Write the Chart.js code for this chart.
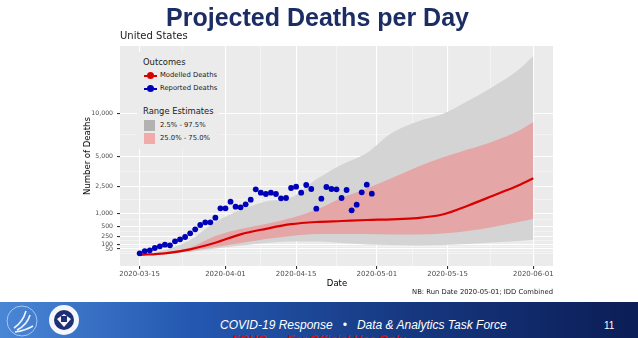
<!DOCTYPE html>
<html>
<head>
<meta charset="utf-8">
<script src="https://cdn.jsdelivr.net/npm/chart.js@4/dist/chart.umd.min.js"></script>
<style>
  body { margin: 0; width: 638px; height: 338px; overflow: hidden; background: #fff; position: relative; font-family: "DejaVu Sans", sans-serif; }
  #deaths { position: absolute; left: 0; top: 0; }
  .abs { position: absolute; white-space: nowrap; }
  #title { left: 0; width: 635px; top: 3px; text-align: center; font: bold 25px "Liberation Sans", Arial, sans-serif; color: #1c2d63; }
  #region { left: 120px; top: 30px; font-size: 10px; color: #1a1a1a; }
  #ylab { left: 87px; top: 156px; font-size: 8.5px; color: #000; transform: translate(-50%, -50%) rotate(-90deg); }
  #xlab { left: 337px; top: 283px; font-size: 8.5px; color: #000; transform: translate(-50%, -50%); }
  #note { right: 85px; top: 288px; font-size: 6.8px; color: #1a1a1a; }
  #legend { left: 137px; top: 52px; width: 82px; height: 97px; background: #ebebeb; }
  #legend .head { position: absolute; left: 6px; font-size: 8.4px; color: #1a1a1a; }
  #legend .item { position: absolute; left: 23px; font-size: 6.8px; color: #1a1a1a; }
  #legend .ln { position: absolute; left: 7px; width: 13px; height: 2px; }
  #legend .ln::after { content: ""; position: absolute; left: 3px; top: -3px; width: 7px; height: 7px; border-radius: 50%; background: inherit; }
  #legend .sw { position: absolute; left: 7px; width: 11px; height: 11px; }
  #band { left: 0; top: 302px; width: 638px; height: 36px; background: linear-gradient(90deg, #4a86d6 0%, #2458b0 30%, #16377f 65%, #0b1d55 100%); }
  #band .txt { position: absolute; left: 220px; top: 16px; font: italic 12px "Liberation Sans", Arial, sans-serif; color: #fff; }
  #band .fouo { position: absolute; left: 232px; top: 31px; font: italic bold 12px "Liberation Sans", Arial, sans-serif; color: #d01010; }
  #band .pg { position: absolute; left: 604px; top: 18px; font: 10px "Liberation Sans", Arial, sans-serif; color: #fff; }
</style>
</head>
<body>
<canvas id="deaths" width="638" height="338"></canvas>

<div id="title" class="abs">Projected Deaths per Day</div>
<div id="region" class="abs">United States</div>
<div id="ylab" class="abs">Number of Deaths</div>
<div id="xlab" class="abs">Date</div>
<div id="note" class="abs">NB: Run Date 2020-05-01; IDD Combined</div>

<div id="legend" class="abs">
  <div class="head" style="top:5px">Outcomes</div>
  <div class="ln" style="top:23px;background:#d90000"></div>
  <div class="item" style="top:19px">Modelled Deaths</div>
  <div class="ln" style="top:36px;background:#0000b8"></div>
  <div class="item" style="top:32px">Reported Deaths</div>
  <div class="head" style="top:54px">Range Estimates</div>
  <div class="sw" style="top:68px;background:#b2b2b2"></div>
  <div class="item" style="top:69px">2.5% - 97.5%</div>
  <div class="sw" style="top:81px;background:#f2abab"></div>
  <div class="item" style="top:82px">25.0% - 75.0%</div>
</div>

<div id="band" class="abs">
  <svg width="90" height="36" style="position:absolute;left:0;top:0">
    <circle cx="22" cy="19" r="15" fill="none" stroke="#a9c6ee" stroke-width="1"/>
    <path d="M14 26 C20 22 24 16 26 9 M17 28 C23 25 28 20 30 13 M15 30 C22 29 28 27 33 24" fill="none" stroke="#eef4ff" stroke-width="1.6"/>
    <circle cx="64" cy="18" r="15" fill="#f4f6fb"/>
    <circle cx="64" cy="18" r="10" fill="#1e2f73"/>
    <path d="M57 17 L64 12 L71 17 L64 25 Z" fill="#f4f6fb"/>
    <rect x="61" y="14" width="6" height="6" fill="#1e2f73"/>
  </svg>
  <div class="txt">COVID-19 Response&nbsp;&nbsp;&nbsp;•&nbsp;&nbsp;&nbsp;Data &amp; Analytics Task Force</div>
  <div class="fouo">FOUO&nbsp;&nbsp;–&nbsp;&nbsp;For Official Use Only</div>
  <div class="pg">11</div>
</div>

<script>
// x values are days counted from 2020-03-15
var xTickDays = [0, 17, 31, 47, 61, 78];
var xTickLabels = ['2020-03-15', '2020-04-01', '2020-04-15', '2020-05-01', '2020-05-15', '2020-06-01'];
var xMinorDays = [8.5, 24, 39, 54, 69.5];

var yTickValues = [50, 100, 250, 500, 1000, 2500, 5000, 10000];
var yMinorValues = [17, 31, 72, 166, 365, 729, 1665, 3648, 7293];

// reported deaths, one point per day (day 0 .. 46)
var reportDays = [0, 1, 2, 3, 4, 5, 6, 7, 8, 9, 10, 11, 12, 13, 14, 15, 16, 17, 18, 19, 20, 21, 22, 23,
  24, 25, 26, 27, 28, 29, 30, 31, 32, 33, 34, 35, 36, 37, 38, 39, 40, 41, 42, 43, 44, 45, 46];
var reportedDeaths = [17, 32, 38, 60, 79, 100, 92, 152, 188, 233, 317, 422, 552, 642, 642, 812, 1220, 1220,
  1556, 1298, 1269, 1419, 1666, 2299, 2081, 2000, 2081, 2000, 1746, 1763, 2385, 2473, 2081, 2590, 2318,
  1201, 1723, 2452, 2318, 2299, 1763, 2253, 1126, 1399, 2106, 2611, 2019];

// model output
var modelDays = [0, 5, 10, 15, 20, 25, 30, 35, 40, 45, 50, 55, 60, 65, 70, 75, 78];
var modelledDeaths = [9, 17, 47, 129, 293, 436, 578, 653, 688, 725, 750, 798, 941, 1348, 1898, 2556, 3078];
var outerHigh = [9, 40, 175, 653, 1140, 1570, 1790, 3000, 4200, 5300, 7500, 8888, 9904, 11756, 13976, 16810, 19390];
var outerLow = [9, 13, 25, 55, 89, 125, 149, 149, 125, 103, 96, 89, 96, 110, 132, 157, 175];
var innerHigh = [9, 19, 65, 255, 431, 585, 800, 1150, 1763, 2350, 3100, 4000, 4860, 5650, 6520, 7720, 8844];
var innerLow = [9, 13, 32, 71, 125, 193, 255, 300, 300, 300, 288, 288, 312, 376, 489, 653, 762];

var pairs = (xs, ys) => xs.map((x, i) => ({ x: x, y: ys[i] }));
var ssqrt = v => Math.sign(v) * Math.sqrt(Math.abs(v));

// square-root y axis
class SqrtScale extends Chart.LinearScale {
  static id = 'sqrt';
  static defaults = {};
  configure() {
    super.configure();
    this._s0 = ssqrt(this.min);
    this._s1 = ssqrt(this.max);
  }
  getPixelForValue(value) {
    if (value === null || value === undefined) return NaN;
    return this.getPixelForDecimal((ssqrt(value) - this._s0) / (this._s1 - this._s0));
  }
  getValueForPixel(pixel) {
    var s = this._s0 + this.getDecimalForPixel(pixel) * (this._s1 - this._s0);
    return Math.sign(s) * s * s;
  }
}
Chart.register(SqrtScale);

var mainTick = c => c.tick && c.tick.main;

new Chart(document.getElementById('deaths'), {
  type: 'line',
  data: {
    datasets: [
      {
        label: 'Reported Deaths',
        data: pairs(reportDays, reportedDeaths),
        showLine: false,
        pointRadius: 2.9,
        pointBorderWidth: 0,
        pointBackgroundColor: '#0000b8',
        order: 0
      },
      {
        label: 'Modelled Deaths',
        data: pairs(modelDays, modelledDeaths),
        borderColor: '#d90000',
        borderWidth: 2.2,
        pointRadius: 0,
        cubicInterpolationMode: 'monotone',
        order: 1
      },
      {
        label: '25.0% - 75.0%',
        data: pairs(modelDays, innerHigh),
        borderWidth: 0,
        pointRadius: 0,
        cubicInterpolationMode: 'monotone',
        backgroundColor: 'rgba(240, 128, 128, 0.55)',
        fill: '+1',
        order: 2
      },
      {
        label: '25.0% low',
        data: pairs(modelDays, innerLow),
        borderWidth: 0,
        pointRadius: 0,
        cubicInterpolationMode: 'monotone',
        order: 3
      },
      {
        label: '2.5% - 97.5%',
        data: pairs(modelDays, outerHigh),
        borderWidth: 0,
        pointRadius: 0,
        cubicInterpolationMode: 'monotone',
        backgroundColor: '#d4d4d4',
        fill: '+1',
        order: 4
      },
      {
        label: '2.5% low',
        data: pairs(modelDays, outerLow),
        borderWidth: 0,
        pointRadius: 0,
        cubicInterpolationMode: 'monotone',
        order: 5
      }
    ]
  },
  options: {
    responsive: false,
    animation: false,
    layout: { padding: { left: 0, top: 46, right: 85, bottom: 42 } },
    plugins: {
      legend: { display: false },
      tooltip: { enabled: false }
    },
    scales: {
      x: {
        type: 'linear',
        min: -3.9,
        max: 81.9,
        bounds: 'data',
        afterFit: axis => { axis.height = 30; },
        afterBuildTicks: axis => {
          axis.ticks = xTickDays.map((d, i) => ({ value: d, main: true, text: xTickLabels[i] }))
            .concat(xMinorDays.map(d => ({ value: d, main: false, text: '' })));
        },
        border: { display: false },
        grid: {
          color: c => mainTick(c) ? '#ffffff' : 'rgba(255,255,255,0.7)',
          lineWidth: c => mainTick(c) ? 1.1 : 0.6,
          tickColor: c => mainTick(c) ? '#333333' : 'rgba(0,0,0,0)',
          tickLength: 3
        },
        ticks: {
          autoSkip: false,
          maxRotation: 0,
          padding: 1,
          color: '#4d4d4d',
          font: { family: 'DejaVu Sans', size: 7 },
          callback: (v, i, ticks) => ticks[i].text
        }
      },
      y: {
        type: 'sqrt',
        min: -21,
        max: 21345,
        bounds: 'data',
        afterFit: axis => { axis.width = 120; },
        afterBuildTicks: axis => {
          axis.ticks = yTickValues.map(v => ({ value: v, main: true }))
            .concat(yMinorValues.map(v => ({ value: v, main: false })));
        },
        border: { display: false },
        grid: {
          color: c => mainTick(c) ? '#ffffff' : 'rgba(255,255,255,0.7)',
          lineWidth: c => mainTick(c) ? 1.1 : 0.6,
          tickColor: c => mainTick(c) ? '#333333' : 'rgba(0,0,0,0)',
          tickLength: 3
        },
        ticks: {
          autoSkip: false,
          padding: 4,
          color: '#4d4d4d',
          font: { family: 'DejaVu Sans', size: 6.2 },
          callback: (v, i, ticks) => ticks[i].main ? v.toLocaleString('en-US') : ''
        }
      }
    }
  },
  plugins: [{
    id: 'panel',
    beforeDraw(chart) {
      var a = chart.chartArea, ctx = chart.ctx;
      ctx.save();
      ctx.fillStyle = '#ebebeb';
      ctx.fillRect(a.left, a.top, a.right - a.left, a.bottom - a.top);
      ctx.restore();
    }
  }]
});
</script>
</body>
</html>
